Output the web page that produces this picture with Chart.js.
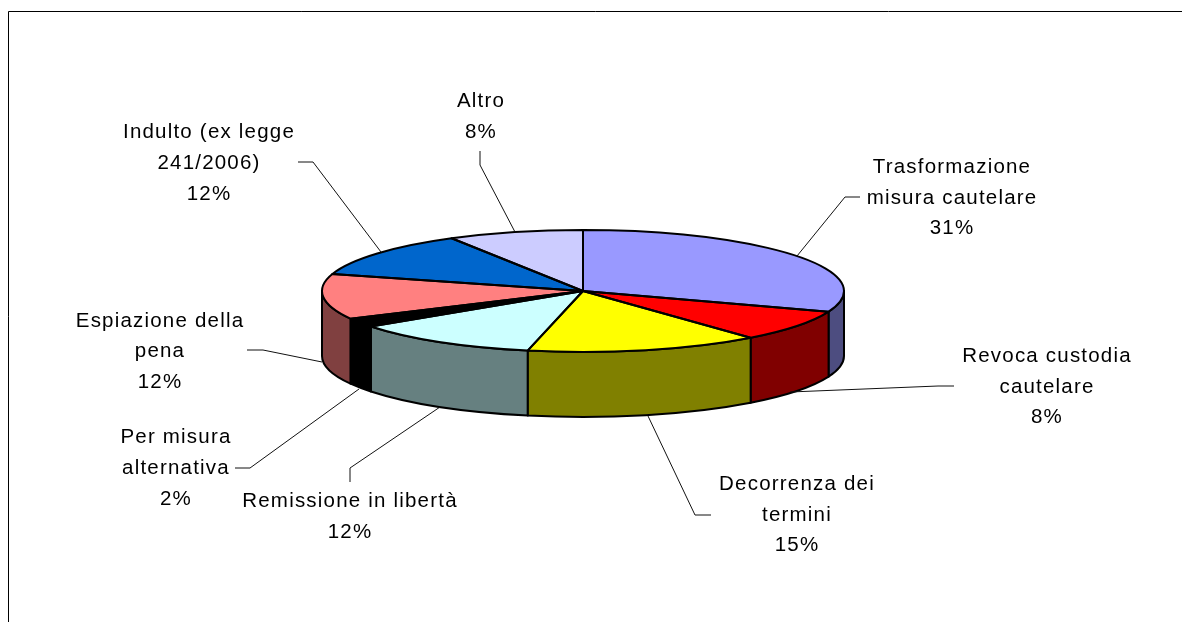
<!DOCTYPE html>
<html lang="it">
<head>
<meta charset="utf-8">
<title>Torta 3D</title>
<script src="https://cdn.jsdelivr.net/npm/chart.js@4/dist/chart.umd.min.js"></script>
<style>
  html, body { margin: 0; background: #fff; }
  #wrap { position: relative; width: 1182px; height: 622px; overflow: hidden; }
</style>
</head>
<body>
<div id="wrap"><canvas id="pie" width="1182" height="622"></canvas></div>
<script>
// Values, the printed labels are these rounded
const categories = [
  ['Trasformazione', 'misura cautelare'],
  ['Revoca custodia', 'cautelare'],
  ['Decorrenza dei', 'termini'],
  ['Remissione in libertà'],
  ['Per misura', 'alternativa'],
  ['Espiazione della', 'pena'],
  ['Indulto (ex legge', '241/2006)'],
  ['Altro']
];
const values = [30.5, 8.4, 14.5, 11.7, 2.4, 12.0, 12.1, 8.4];
const topColors = ['#9999FF', '#FF0000', '#FFFF00', '#CCFFFF', '#000000', '#FF8080', '#0066CC', '#CCCCFF'];
const sideColors = ['#4D4D80', '#800000', '#808000', '#668080', '#000000', '#804040', '#003366', '#666680'];

// label placement: centre x and the y of each text line
const labelX = [952, 1047, 797, 350, 176, 160, 209, 481];
const labelY = [
  [167, 198, 228],
  [356, 387, 417],
  [484, 515, 545],
  [501, 532],
  [437, 468, 499],
  [321, 351, 382],
  [132, 163, 194],
  [101, 132]
];
const leaders = [
  [[860, 197], [845, 197], [797, 256]],
  [[954, 386], [938, 386], [790, 392]],
  [[711, 515], [695, 515], [648, 416]],
  [[350, 482], [350, 468], [440, 407]],
  [[235, 468], [250, 468], [359, 389]],
  [[247, 350], [263, 350], [322, 362]],
  [[298, 162], [313, 162], [381, 252]],
  [[480, 151], [480, 165], [515, 232]]
];

const squash = 61 / 261;
const depth = 65;
const outline = 2;

function squashAround(ctx, cy) {
  ctx.translate(0, cy);
  ctx.scale(1, squash);
  ctx.translate(0, -cy);
}

// side walls go under the pie, then the pie itself is drawn flattened
const pie3d = {
  id: 'pie3d',
  beforeDatasetsDraw(chart) {
    const ctx = chart.ctx;
    chart.getDatasetMeta(0).data.forEach((arc, i) => {
      const { x, y, startAngle, endAngle, outerRadius } = arc.getProps(['x', 'y', 'startAngle', 'endAngle', 'outerRadius'], true);
      const a0 = Math.max(startAngle, 0);
      const a1 = Math.min(endAngle, Math.PI);
      if (a1 <= a0) return;
      const ry = outerRadius * squash;
      ctx.beginPath();
      ctx.ellipse(x, y, outerRadius, ry, 0, a0, a1);
      ctx.ellipse(x, y + depth, outerRadius, ry, 0, a1, a0, true);
      ctx.closePath();
      ctx.fillStyle = sideColors[i];
      ctx.fill();
      ctx.lineWidth = outline;
      ctx.strokeStyle = '#000';
      ctx.lineJoin = 'round';
      ctx.stroke();
    });
    ctx.save();
    squashAround(ctx, chart.getDatasetMeta(0).data[0].y);
  },
  afterDatasetsDraw(chart) {
    const ctx = chart.ctx;
    ctx.restore();
    // outlines: path built flattened, stroked unflattened so the line keeps its width
    chart.getDatasetMeta(0).data.forEach((arc) => {
      const { x, y, startAngle, endAngle, outerRadius } = arc.getProps(['x', 'y', 'startAngle', 'endAngle', 'outerRadius'], true);
      ctx.save();
      squashAround(ctx, y);
      ctx.beginPath();
      ctx.moveTo(x, y);
      ctx.arc(x, y, outerRadius, startAngle, endAngle);
      ctx.closePath();
      ctx.restore();
      ctx.lineWidth = outline;
      ctx.strokeStyle = '#000';
      ctx.lineJoin = 'round';
      ctx.stroke();
    });

    // frame, only top and left show in the picture
    ctx.beginPath();
    ctx.moveTo(8.5, 622);
    ctx.lineTo(8.5, 11.5);
    ctx.lineTo(1182, 11.5);
    ctx.lineWidth = 1;
    ctx.strokeStyle = '#000';
    ctx.stroke();

    // leader lines
    ctx.strokeStyle = '#111';
    leaders.forEach((pts) => {
      ctx.beginPath();
      pts.forEach((p, k) => (k ? ctx.lineTo(p[0], p[1]) : ctx.moveTo(p[0], p[1])));
      ctx.stroke();
    });

    // labels
    ctx.fillStyle = '#000';
    ctx.font = '20.5px "Liberation Sans", Arial, sans-serif';
    ctx.letterSpacing = '1.2px';
    ctx.textAlign = 'center';
    ctx.textBaseline = 'middle';
    categories.forEach((lines, i) => {
      const text = lines.concat(Math.round(values[i]) + '%');
      text.forEach((line, k) => ctx.fillText(line, labelX[i], labelY[i][k]));
    });
  }
};

new Chart(document.getElementById('pie'), {
  type: 'pie',
  data: {
    labels: categories.map((c) => c.join(' ')),
    datasets: [{
      data: values,
      backgroundColor: topColors,
      borderWidth: 0,
      clip: false
    }]
  },
  options: {
    responsive: false,
    animation: false,
    layout: { padding: { left: 322, right: 338, top: 30, bottom: 70 } },
    plugins: { legend: { display: false }, tooltip: { enabled: false } }
  },
  plugins: [pie3d]
});
</script>
</body>
</html>
